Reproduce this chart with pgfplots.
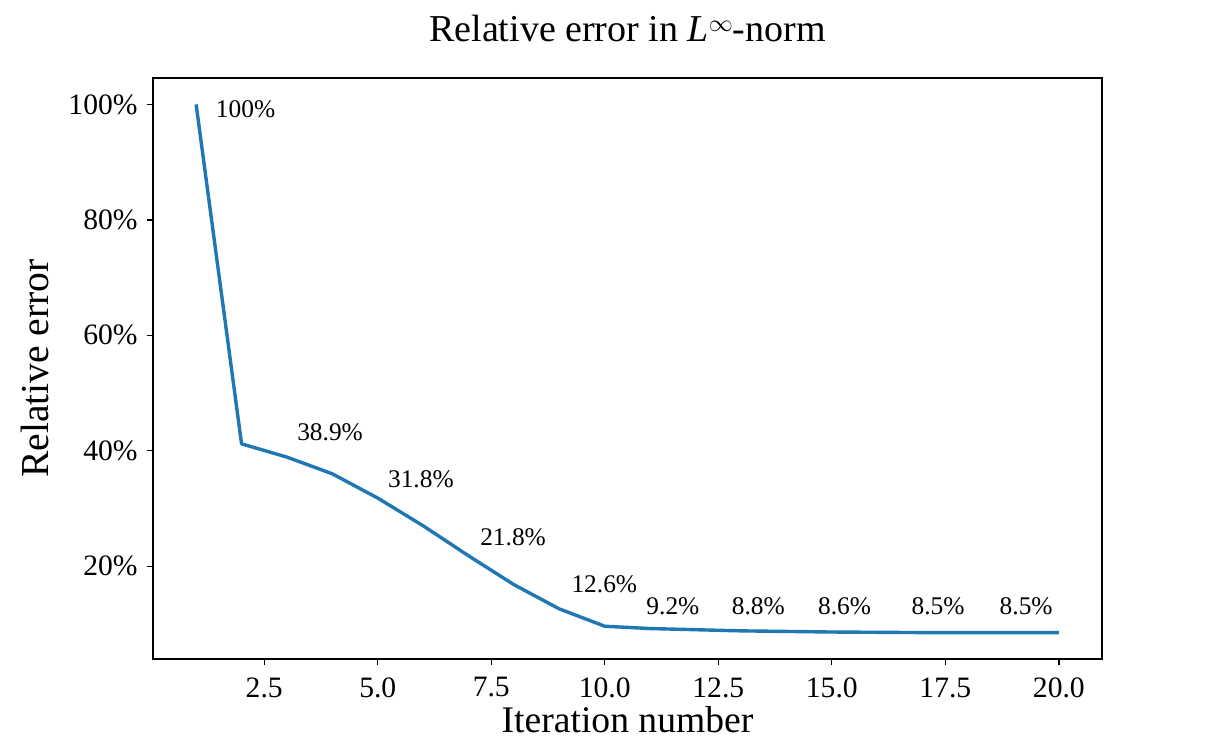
\documentclass[border=0pt]{standalone}
\usepackage{fontspec}
\setmainfont{Liberation Serif}
\usepackage{pgfplots}
\pgfplotsset{compat=1.18}
\definecolor{mplblue}{HTML}{1F77B4}

% relative error per iteration
\pgfplotstableread{
it  err
1   100
2   41.2
3   38.9
4   36.0
5   31.8
6   27.0
7   21.8
8   16.8
9   12.6
10  9.6
11  9.2
12  9.0
13  8.8
14  8.7
15  8.6
16  8.55
17  8.5
18  8.5
19  8.5
20  8.5
}\errtable

\begin{document}
\begin{tikzpicture}
\begin{axis}[
  at={(0,0)}, anchor=south west,
  scale only axis, width=474.5pt, height=290.5pt,
  xmin=0.05, xmax=20.95, ymin=3.925, ymax=104.575,
  xtick={2.5,5,7.5,10,12.5,15,17.5,20},
  ytick={20,40,60,80,100},
  xtick pos=left, ytick pos=left,
  tick align=outside, major tick length=3.2pt,
  axis line style={line width=0.65pt},
  every tick/.style={line width=0.65pt, black},
  tick label style={font=\fontsize{14.8}{16}\selectfont},
  xticklabel style={yshift=-2.5pt, /pgf/number format/.cd, fixed, fixed zerofill, precision=1, assume math mode=true},
  yticklabel={\pgfmathprintnumber[assume math mode=true]{\tick}\%},
  yticklabel style={xshift=-1pt},
  xlabel={Iteration number},
  ylabel={Relative error},
  xlabel style={font=\fontsize{18.8}{20}\selectfont, at={(axis description cs:0.5,-0.1268)}, anchor=base},
  ylabel style={font=\fontsize{19.8}{21}\selectfont, at={(axis description cs:-0.1243,0.5)}, anchor=center},
  title={Relative error in \textit{L}\raisebox{0.55ex}{\fontsize{13}{14}\selectfont$\infty$}-norm},
  title style={font=\fontsize{19}{21}\selectfont, at={(axis description cs:0.5,1.043)}, anchor=base},
  clip=false,
]
\addplot[mplblue, line width=1.7pt, line join=round] table[x=it, y=err] {\errtable};

\begin{scope}[every node/.style={font=\fontsize{12.7}{14}\selectfont, anchor=center, inner sep=0pt}]
\node at (axis cs:2.09,99.1) {100\%};
\node at (axis cs:3.95,43.2) {38.9\%};
\node at (axis cs:5.95,35.0) {31.8\%};
\node at (axis cs:7.98,25.0) {21.8\%};
\node at (axis cs:9.99,16.8) {12.6\%};
\node at (axis cs:11.5,13.0) {9.2\%};
\node at (axis cs:13.38,13.0) {8.8\%};
\node at (axis cs:15.28,13.0) {8.6\%};
\node at (axis cs:17.34,13.0) {8.5\%};
\node at (axis cs:19.28,13.0) {8.5\%};
\end{scope}
\end{axis}
\pgfresetboundingbox
\path[use as bounding box] (-76.5pt,-42.5pt) rectangle (536pt,329.5pt);
\end{tikzpicture}
\end{document}
